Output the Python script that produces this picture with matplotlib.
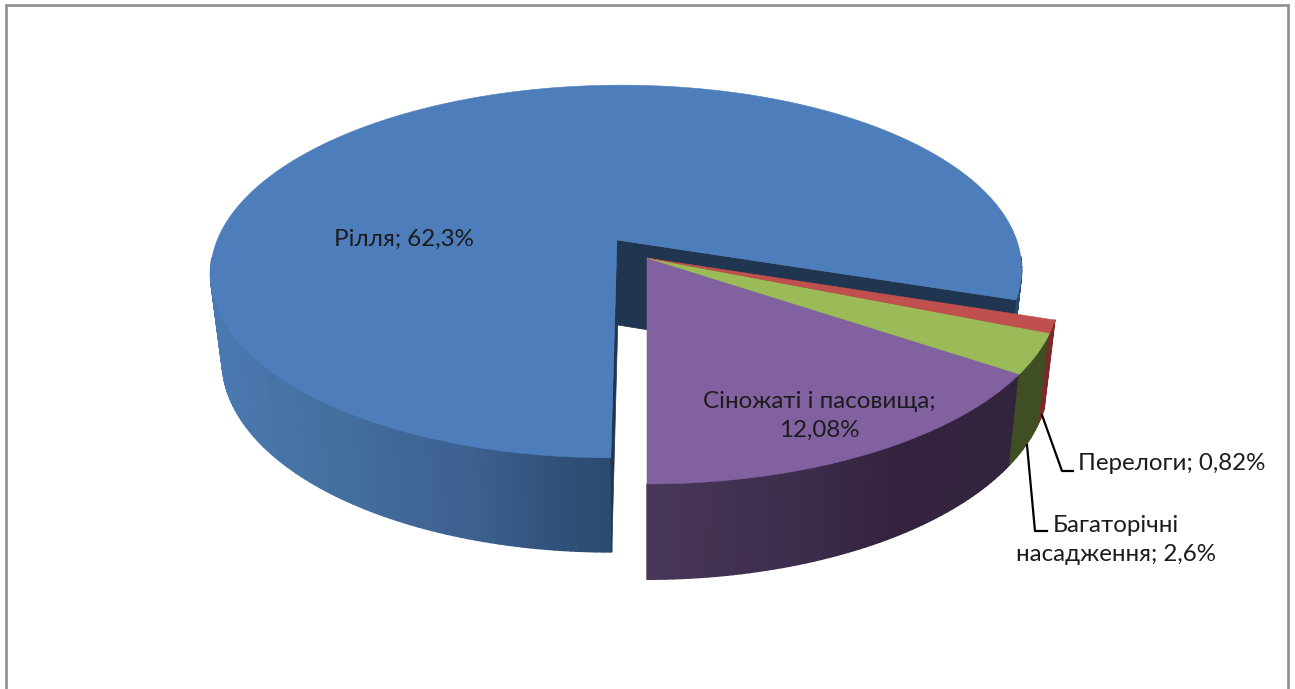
import numpy as np
import matplotlib
matplotlib.use("Agg")
import matplotlib.pyplot as plt
from matplotlib.collections import PolyCollection
from matplotlib.colors import to_rgb

plt.rcParams['font.family'] = ['Lato', 'Open Sans', 'DejaVu Sans']

# Land-use shares, clockwise from the near edge of the pie
names = ['Рілля', 'Перелоги', 'Багаторічні насадження', 'Сіножаті і пасовища']
values = [62.3, 0.82, 2.6, 12.08]
exploded = [False, True, True, True]
top_colors = ['#4d7ebb', '#c0504d', '#9bbb59', '#8161a0']
flat_wall_colors = [None, '#7a2b29', '#3f4e23', None]

# Horizontal shading of the curved walls: (screen x, colour)
wall_ramps = {
    0: ([222, 330, 480, 560, 613], ['#4a78b0', '#44709f', '#3c5f8e', '#2f5078', '#2b4a6e']),
    3: ([647, 800, 900, 1020], ['#483758', '#3d2d4d', '#33233f', '#33243e']),
}
cut_face_color = '#1f3550'

# Perspective parameters of the top and bottom discs
vanish_x = 647.0
explode_x, explode_z = 0.0752, 0.0978
top_disc = dict(radius=399.7, apex_y=240.0, scale_y=181.0, persp=0.169)
low_disc = dict(radius=389.0, apex_y=325.0, scale_y=188.4, persp=0.17)
start_bearing = 180.0
hidden_wall_limit = 0.1  # walls further back than this sit behind the top face


def project(x, z, disc):
    w = 1 - disc['persp'] * z
    sx = vanish_x + disc['radius'] * (x - explode_x) / w
    sy = disc['apex_y'] + disc['scale_y'] * z / w
    return np.column_stack([sx, sy])


def arc(b0, b1, shift, per_degree=3):
    b = np.radians(np.linspace(b0, b1, max(int(abs(b1 - b0) * per_degree), 8)))
    return np.sin(b) + shift[0], -np.cos(b) + shift[1]


def ramp_color(px, ramp):
    xs, cols = ramp
    rgb = np.array([to_rgb(c) for c in cols])
    return [np.interp(px, xs, rgb[:, i]) for i in range(3)]


def draw_walls(ax, b0, b1, shift, idx):
    x, z = arc(b0, b1, shift, per_degree=1)
    up, lo = project(x, z, top_disc), project(x, z, low_disc)
    quads, cols = [], []
    for i in np.argsort(z[:-1]):
        if z[i] < hidden_wall_limit and z[i + 1] < hidden_wall_limit:
            continue
        quads.append([up[i], up[i + 1], lo[i + 1], lo[i]])
        mid = (up[i, 0] + up[i + 1, 0]) / 2
        cols.append(ramp_color(mid, wall_ramps[idx]) if idx in wall_ramps
                    else to_rgb(flat_wall_colors[idx]))
    ax.add_collection(PolyCollection(quads, facecolors=cols, edgecolors=cols, linewidths=1.0))


def draw_cut_face(ax, bearing, shift):
    x = np.array([shift[0], shift[0] + np.sin(np.radians(bearing))])
    z = np.array([shift[1], shift[1] - np.cos(np.radians(bearing))])
    up, lo = project(x, z, top_disc), project(x, z, low_disc)
    ax.fill([up[0, 0], up[1, 0], lo[1, 0], lo[0, 0]],
            [up[0, 1], up[1, 1], lo[1, 1], lo[0, 1]],
            color=cut_face_color, lw=0.5)


def draw_top(ax, b0, b1, shift, color):
    x, z = arc(b0, b1, shift)
    x = np.r_[shift[0], x]
    z = np.r_[shift[1], z]
    pts = project(x, z, top_disc)
    ax.fill(pts[:, 0], pts[:, 1], color=color, lw=0.4)


fig = plt.figure(figsize=(12.95, 6.89), dpi=100, facecolor='white')
ax = fig.add_axes([0, 0, 1, 1])
ax.set_xlim(0, 1295)
ax.set_ylim(689, 0)
ax.axis('off')

# Chart frame, open at the bottom
ax.plot([5.5, 5.5, 1287.5, 1287.5], [689, 4.5, 4.5, 689], color='#8e8e8e', lw=1.9,
        solid_joinstyle='miter')

sweeps = 360.0 * np.array(values) / sum(values)
bearings = start_bearing + np.r_[0, np.cumsum(sweeps)]

# The main slice first, then the pulled-out group in front of it
for i in [0, 3, 2, 1]:
    shift = (explode_x, explode_z) if exploded[i] else (0.0, 0.0)
    b0, b1 = bearings[i], bearings[i + 1]
    draw_walls(ax, b0, b1, shift, i)
    if not exploded[i]:
        draw_cut_face(ax, b0, shift)
        draw_cut_face(ax, b1, shift)
for i in [0, 3, 2, 1]:
    shift = (explode_x, explode_z) if exploded[i] else (0.0, 0.0)
    draw_top(ax, bearings[i], bearings[i + 1], shift, top_colors[i])

# Leader lines
ax.plot([1042, 1062, 1073], [415, 471, 471], color='black', lw=1.6)
ax.plot([1027, 1035, 1047], [445, 531, 531], color='black', lw=1.6)


def pct(v):
    return str(v).replace('.', ',') + '%'


txt = dict(ha='center', va='center', color='#1c1c1c', fontsize=17.4, linespacing=1.5)
ax.text(403.5, 239, f'{names[0]}; {pct(values[0])}', **txt)
ax.text(819, 416, f'{names[3]};\n{pct(values[3])}', **txt)
ax.text(1172, 463, f'{names[1]}; {pct(values[1])}', **txt)
first, second = names[2].split(' ')
ax.text(1115.5, 540, f'{first}\n{second}; {pct(values[2])}', **txt)

fig.savefig('out.png', dpi=100, facecolor='white')
